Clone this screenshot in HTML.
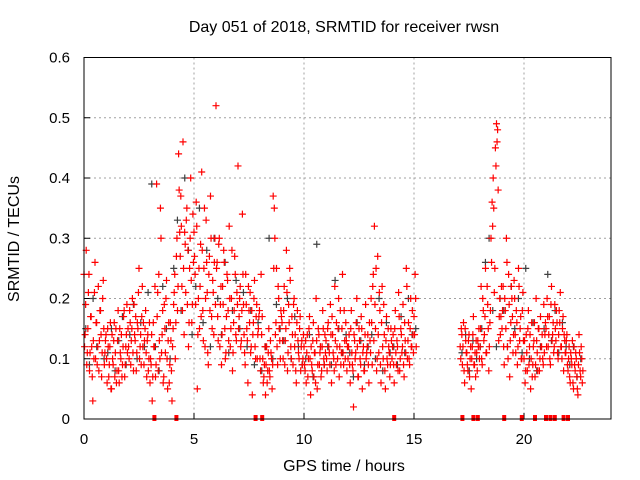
<!DOCTYPE html>
<html><head><meta charset="utf-8"><style>
html,body{margin:0;padding:0;background:#fff;}
svg{display:block;font-family:"Liberation Sans",sans-serif;}
</style></head><body>
<svg id="chart" width="640" height="480" viewBox="0 0 640 480">
<rect width="640" height="480" fill="#fff"/>
<text x="344" y="32" font-size="16" text-anchor="middle" fill="#000">Day 051 of 2018, SRMTID for receiver rwsn</text>
<text x="344" y="471" font-size="16" text-anchor="middle">GPS time / hours</text>
<text transform="translate(19,239) rotate(-90)" font-size="16" text-anchor="middle">SRMTID / TECUs</text>
<g id="grid"></g><g id="ticks"></g><g id="gray"></g><g id="red"></g><g id="zeros"></g>
<rect x="84" y="57.5" width="527" height="361.5" fill="none" stroke="#000" stroke-width="1"/>
</svg>
<script>
const xTicks=[0,5,10,15,20];
const yTicks=[0,0.1,0.2,0.3,0.4,0.5,0.6];
const yTickLabels=["0","0.1","0.2","0.3","0.4","0.5","0.6"];
const hourStarts=[0,1,2,3,4,5,6,7,8,9,10,11,12,13,14,15,16,17.1,18,19,20,21,22];
const redVals=[
[.24,.14,.28,.11,.21,.08,.17,.12,.03,.10,.26,.16,.09,.22,.13,.18,.07,.20,.15,.11],
[.14,.06,.12,.09,.16,.05,.10,.13,.07,.15,.08,.18,.06,.11,.14,.09,.17,.07,.12,.19],
[.15,.10,.16,.13,.20,.08,.14,.17,.11,.15,.25,.12,.09,.22,.16,.13,.18,.07,.14,.10],
[.06,.09,.03,.16,.12,.07,.39,.21,.24,.10,.30,.14,.06,.19,.11,.23,.05,.16,.09,.13],
[.03,.15,.21,.10,.27,.18,.44,.31,.37,.22,.46,.14,.29,.33,.19,.12,.25,.40,.16,.34],
[.31,.24,.36,.05,.20,.15,.29,.41,.18,.25,.12,.33,.21,.09,.27,.37,.17,.23,.14,.30],
[.52,.26,.13,.30,.19,.09,.22,.28,.15,.11,.24,.18,.32,.12,.20,.08,.16,.27,.14,.21],
[.42,.17,.22,.13,.34,.19,.11,.24,.15,.06,.18,.21,.12,.04,.16,.23,.10,.19,.14,.17],
[.10,.24,.17,.06,.09,.04,.12,.08,.15,.07,.11,.05,.37,.35,.14,.25,.09,.20,.13,.18],
[.16,.10,.22,.13,.28,.08,.19,.25,.12,.17,.09,.20,.14,.06,.18,.11,.15,.08,.13,.10],
[.12,.08,.06,.14,.10,.17,.04,.09,.13,.07,.11,.20,.05,.15,.09,.12,.08,.18,.10,.14],
[.13,.08,.16,.11,.19,.06,.14,.10,.22,.09,.12,.15,.07,.18,.11,.24,.09,.13,.16,.08],
[.10,.14,.06,.18,.09,.02,.13,.11,.20,.07,.15,.10,.17,.05,.12,.08,.19,.11,.14,.06],
[.13,.20,.09,.24,.32,.15,.08,.27,.11,.18,.06,.22,.10,.14,.05,.17,.09,.12,.07,.15],
[.10,.14,.06,.18,.09,.12,.21,.08,.15,.11,.19,.07,.13,.25,.10,.16,.09,.20,.12,.14],
[.17,.24,.12],
[],
[.12,.15,.09,.16,.06,.13,.11,.08,.14,.10,.05,.12,.17,.09,.07,.11,.13,.15],
[.12,.22,.09,.18,.14,.25,.11,.19,.08,.16,.30,.36,.40,.21,.45,.49,.48,.13,.20,.17],
[.15,.22,.09,.18,.30,.12,.24,.07,.16,.20,.11,.23,.14,.18,.09,.25,.13,.17,.10,.21],
[.10,.06,.14,.08,.18,.12,.05,.16,.09,.13,.07,.20,.11,.15,.08,.17,.12,.10,.19,.14],
[.15,.20,.12,.17,.09,.22,.14,.11,.19,.13,.16,.10,.18,.21,.12,.15,.08,.13,.11,.14],
[.08,.12,.06,.10,.13,.05,.09,.11,.07,.04,.14,.08,.12,.06]
];
const redVals2=[
[.12,.19,.09,.15,.24,.11,.17,.07,.13,.21,.10,.16,.12,.08,.18,.14,.11,.23,.09,.13],
[.10,.15,.07,.12,.05,.14,.09,.16,.11,.06,.13,.08,.15,.10,.07,.12,.18,.09,.14,.11],
[.12,.18,.09,.15,.11,.19,.13,.08,.16,.21,.10,.14,.17,.12,.09,.15,.11,.13,.08,.16],
[.10,.14,.07,.12,.22,.09,.17,.08,.13,.35,.11,.18,.07,.15,.20,.10,.13,.06,.16,.08],
[.12,.19,.24,.16,.30,.22,.38,.27,.32,.18,.25,.31,.21,.35,.28,.16,.30,.23,.19,.26],
[.27,.19,.32,.14,.25,.22,.17,.28,.13,.35,.20,.26,.11,.24,.18,.30,.15,.21,.26,.19],
[.25,.17,.29,.12,.22,.14,.19,.26,.10,.17,.23,.13,.20,.15,.28,.11,.18,.24,.13,.19],
[.15,.20,.12,.18,.24,.14,.09,.19,.13,.22,.16,.11,.18,.14,.20,.12,.17,.10,.15,.18],
[.08,.14,.10,.07,.12,.09,.06,.11,.08,.13,.10,.09,.25,.30,.16,.12,.22,.15,.10,.17],
[.13,.18,.09,.15,.21,.11,.16,.23,.10,.14,.19,.12,.08,.16,.13,.10,.17,.12,.09,.14],
[.09,.13,.11,.07,.15,.10,.12,.08,.16,.11,.06,.13,.09,.14,.11,.07,.12,.15,.09,.11],
[.10,.15,.12,.09,.14,.17,.11,.08,.13,.16,.10,.20,.12,.09,.15,.11,.18,.10,.13,.12],
[.12,.09,.15,.11,.08,.14,.10,.16,.12,.07,.13,.09,.15,.11,.08,.14,.10,.12,.09,.16],
[.11,.16,.22,.13,.19,.25,.10,.14,.21,.09,.16,.12,.19,.08,.13,.10,.15,.11,.09,.13],
[.12,.09,.15,.11,.13,.08,.17,.10,.14,.12,.09,.16,.11,.22,.13,.10,.15,.12,.18,.11],
[.14,.20],
[],
[.10,.14,.12,.08,.15,.11,.09,.13,.07,.12,.10,.14,.09,.11,.13,.08,.12,.10],
[.15,.10,.20,.13,.17,.11,.22,.15,.12,.18,.26,.32,.35,.25,.42,.46,.38,.17,.14,.22],
[.18,.12,.20,.15,.26,.10,.19,.13,.22,.17,.14,.20,.11,.16,.12,.22,.15,.10,.18,.13],
[.13,.08,.11,.15,.09,.14,.10,.07,.12,.16,.09,.13,.08,.15,.10,.12,.14,.09,.11,.16],
[.12,.17,.14,.10,.19,.13,.16,.12,.15,.18,.11,.14,.16,.12,.10,.17,.14,.11,.13,.09],
[.10,.07,.11,.09,.06,.12,.08,.10,.05,.09,.11,.07,.10,.08]
];
const grayVals=[
[.15,.09,.20,.12,.18,.10],[.11,.15,.08,.13,.17,.09],[.14,.19,.10,.16,.12,.21],
[.39,.12,.08,.22,.15,.10],[.25,.33,.18,.40,.28,.14],[.22,.35,.16,.28,.12,.30],
[.20,.14,.26,.11,.18,.23],[.15,.21,.12,.18,.09,.16],[.08,.12,.30,.10,.19,.15],
[.13,.20,.10,.17,.12,.09],[.10,.14,.07,.29,.12,.09],[.12,.09,.23,.15,.11,.14],
[.11,.07,.16,.13,.09,.12],[.14,.10,.20,.08,.16,.11],[.12,.09,.17,.11,.20,.14],
[.15],[],[.11,.14,.08,.13,.10,.12],[.15,.26,.30,.18,.12,.20],[.18,.12,.22,.15,.20,.11],
[.25,.10,.16,.08,.12,.15],[.24,.13,.18,.11,.16,.12],[.09,.12,.07,.10]
];
const zeroTimes=[3.2,4.2,7.8,8.1,14.1,17.2,17.7,17.9,19.1,19.9,20.5,21.0,21.2,21.4,21.8,22.0];

const X0=84,X1=612,Y0=419,Y1=57.5,XMAX=24,YMAX=0.6;
function xs(t){return X0+t*(X1-X0)/XMAX;}
function ys(v){return Y0-v*(Y0-Y1)/YMAX;}
const NS="http://www.w3.org/2000/svg";
function mk(tag,parent,attrs){const e=document.createElementNS(NS,tag);for(const k in attrs)e.setAttribute(k,attrs[k]);parent.appendChild(e);return e;}
const grid=document.getElementById('grid'),ticks=document.getElementById('ticks');
xTicks.forEach((t,i)=>{
  const x=xs(t);
  if(t>0){const g=mk('line',grid,{x1:x,x2:x,y1:Y1,y2:Y0,stroke:'#a0a0a0','stroke-dasharray':'2,3'});
  
  }
  const tk=mk('line',ticks,{x1:x,x2:x,y1:Y0,y2:Y0-6,stroke:'#000'});
  
  
  const lb=mk('text',ticks,{x:x,y:444,'font-size':15,'text-anchor':'middle'});lb.textContent=String(t);
  
  
});
yTicks.forEach((v,i)=>{
  const y=ys(v);
  if(v>0&&v<0.6){const g=mk('line',grid,{x1:X0,x2:X1,y1:y,y2:y,stroke:'#a0a0a0','stroke-dasharray':'2,3'});
  
  }
  const tk=mk('line',ticks,{x1:X0,x2:X0+6,y1:y,y2:y,stroke:'#000'});
  
  
  const lb=mk('text',ticks,{x:70,y:y+5,'font-size':15,'text-anchor':'end'});lb.textContent=yTickLabels[i];
  
  
});
function plus(g,t,v,color,name){
  const x=xs(t),y=ys(v);
  const p=mk('path',g,{d:`M${x-3.5},${y}h7M${x},${y-3.5}v7`,stroke:color,'stroke-width':1.2,fill:'none'});
  
  
}
function drawSeries(vals,gid,color,name,step,offset){
  const g=document.getElementById(gid);
  vals.forEach((arr,h)=>{arr.forEach((v,i)=>{plus(g,hourStarts[h]+offset+i*step,v,color,name);});});
}
drawSeries(grayVals,'gray','#404040','gray-point',1/6,0.08);
drawSeries(redVals,'red','#ff0000','red-point',0.05,0);
drawSeries(redVals2,'red','#ff0000','red-point',0.05,0.025);
const zg=document.getElementById('zeros');
zeroTimes.forEach(t=>{
  const r=mk('rect',zg,{x:xs(t)-2,y:Y0-4,width:4,height:6,fill:'#ff0000'});
  
  
});
</script>
</body></html>
